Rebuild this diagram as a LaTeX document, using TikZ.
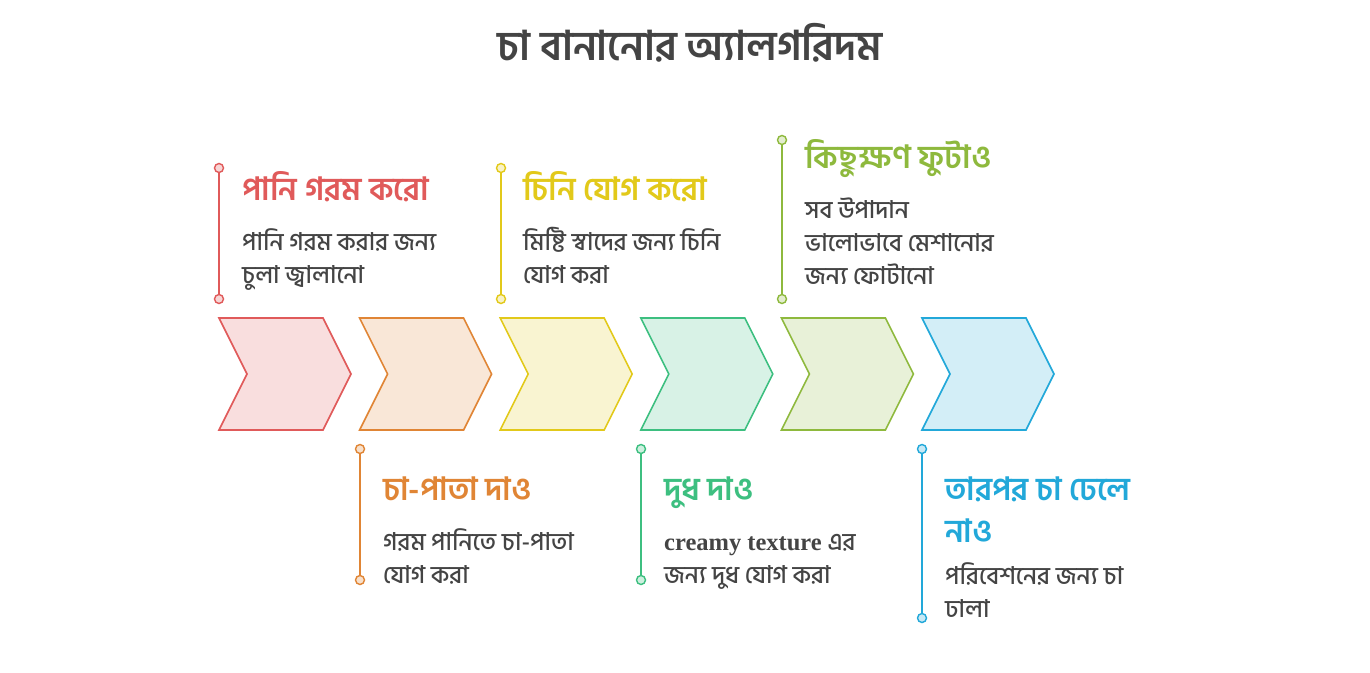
\documentclass[tikz,border=0pt]{standalone}
\usepackage{fontspec}
\newfontfamily\bn[Script=Bengali]{Hind Siliguri}
\newfontfamily\bnmed[Script=Bengali]{Hind Siliguri Medium}
\newfontfamily\bnsemi[Script=Bengali]{Hind Siliguri SemiBold}
\newfontfamily\lserif{Liberation Serif}
\definecolor{txtgray}{HTML}{444444}
\definecolor{cred}{HTML}{E05A5A}
\definecolor{corange}{HTML}{E08535}
\definecolor{cyellow}{HTML}{E2C91A}
\definecolor{cgreen}{HTML}{3DBF80}
\definecolor{colive}{HTML}{8EB93D}
\definecolor{cblue}{HTML}{22A8D9}
\tikzset{
  chev/.style={line width=1.6pt,line join=miter},
  dot/.style={circle,draw=#1,fill=#1!25,line width=1.4pt,inner sep=0pt,minimum size=9pt},
  stem/.style={draw=#1,line width=1.8pt},
  head/.style={font=\bnsemi\fontsize{32}{42}\selectfont,text=#1,anchor=base west,inner sep=0pt,align=left},
  body/.style={font=\bnmed\fontsize{24.5}{33}\selectfont,text=txtgray,anchor=base west,inner sep=0pt,align=left}
}
\begin{document}
\begin{tikzpicture}[x=1pt,y=-1pt]
\useasboundingbox (0,0) rectangle (1370,672);

\node[font=\bn\bfseries\fontsize{41}{46}\selectfont,text=txtgray,anchor=base] (T) at (690,60) {চা বানানোর অ্যালগরিদম};

\foreach \c [count=\n] in {cred,corange,cyellow,cgreen,colive,cblue} {
  \pgfmathsetmacro\x{219+140.6*(\n-1)}
  \draw[chev,draw=\c,fill=\c!20] (\x,318) -- ++(104,0) -- ++(28,56) -- ++(-28,56) -- ++(-104,0) -- ++(28,-56) -- cycle;
}

\foreach \c/\x/\ya/\yb [count=\n] in {cred/219/168/299,corange/360/449/580,cyellow/501/168/299,cgreen/641/449/580,colive/782/140/299,cblue/922/449/618} {
  \node[dot=\c] (D\n a) at (\x,\ya) {};
  \node[dot=\c] (D\n b) at (\x,\yb) {};
  \draw[stem=\c] (D\n a) -- (D\n b);
}

% base of a multi-line node = baseline of its last line
\node[head=cred] (H1) at (242,200) {পানি গরম করো};
\node[body] (B1) at (242,283) {পানি গরম করার জন্য\\চুলা জ্বালানো};

\node[head=corange] (H2) at (383,500) {চা-পাতা দাও};
\node[body] (B2) at (383,583) {গরম পানিতে চা-পাতা\\যোগ করা};

\node[head=cyellow] (H3) at (523,200) {চিনি যোগ করো};
\node[body] (B3) at (523,283) {মিষ্টি স্বাদের জন্য চিনি\\যোগ করা};

\node[head=cgreen] (H4) at (664,500) {দুধ দাও};
\node[body] (B4) at (664,583) {{\lserif\bfseries creamy texture} এর\\জন্য দুধ যোগ করা};

\node[head=colive] (H5) at (805,168) {কিছুক্ষণ ফুটাও};
\node[body] (B5) at (805,284) {সব উপাদান\\ভালোভাবে মেশানোর\\জন্য ফোটানো};

\node[head=cblue] (H6) at (945,542) {তারপর চা ঢেলে\\নাও};
\node[body] (B6) at (945,617) {পরিবেশনের জন্য চা\\ঢালা};
\end{tikzpicture}
\end{document}
